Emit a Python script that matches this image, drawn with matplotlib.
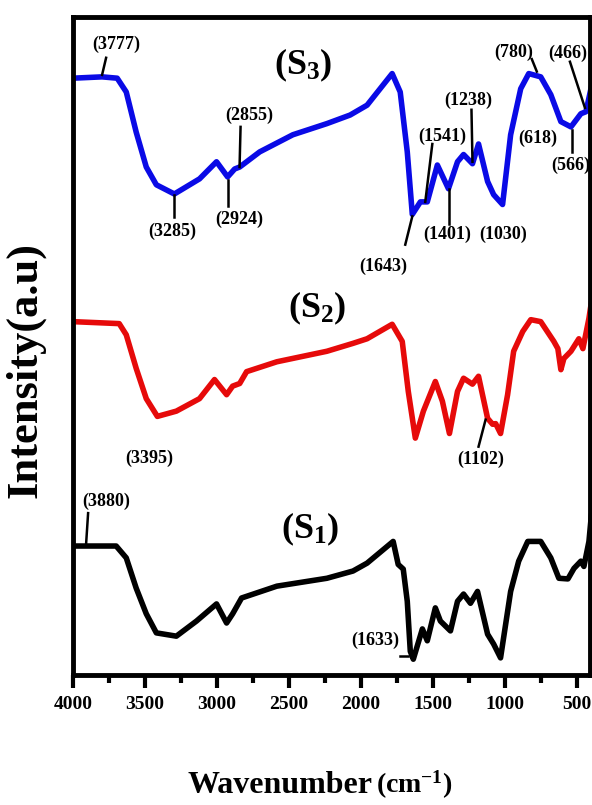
import matplotlib
matplotlib.use("Agg")
from matplotlib import pyplot as plt

plt.rcParams['font.family'] = ['Liberation Serif', 'DejaVu Serif']
plt.rcParams['font.weight'] = 'bold'
plt.rcParams['mathtext.fontset'] = 'custom'
plt.rcParams['mathtext.rm'] = 'Liberation Serif:bold'
plt.rcParams['mathtext.it'] = 'Liberation Serif:bold'
plt.rcParams['mathtext.bf'] = 'Liberation Serif:bold'

# FTIR spectra (wavenumber in cm^-1, intensity in a.u.)
s3_wn = [4000, 3798, 3693, 3630, 3561, 3491, 3421, 3296, 3121, 3003, 2926, 2877, 2842,
         2703, 2473, 2236, 2075, 1957, 1783, 1727, 1678, 1643, 1587, 1539, 1469, 1392,
         1329, 1287, 1225, 1183, 1120, 1078, 1016, 960, 890, 834, 751, 681, 611, 541,
         472, 437, 402]
s3_int = [90.7, 90.9, 90.7, 88.6, 82.5, 77.2, 74.5, 73.1, 75.4, 78.0, 75.7, 76.9, 77.2,
          79.5, 82.1, 83.8, 85.1, 86.6, 91.4, 88.6, 79.5, 70.0, 71.9, 71.9, 77.5, 73.9,
          78.0, 79.1, 77.7, 80.7, 75.0, 73.0, 71.5, 82.1, 89.1, 91.4, 90.9, 88.2, 84.1, 83.3,
          85.3, 85.6, 89.1]

s2_wn = [4000, 3679, 3630, 3561, 3491, 3414, 3282, 3121, 3017, 2933, 2891, 2842, 2794,
         2584, 2236, 2055, 1957, 1783, 1713, 1671, 1622, 1566, 1483, 1434, 1385, 1329,
         1287, 1225, 1183, 1120, 1085, 1064, 1030, 981, 939, 876, 820, 751, 660, 632,
         611, 590, 541, 486, 458, 416, 400]
s2_int = [53.7, 53.4, 51.7, 46.6, 42.0, 39.3, 40.1, 42.0, 44.9, 42.6, 43.9, 44.3, 46.1,
          47.6, 49.2, 50.4, 51.1, 53.3, 50.7, 43.1, 36.0, 40.1, 44.6, 41.6, 36.7, 43.1,
          45.1, 44.2, 45.4, 39.0, 38.1, 38.2, 36.7, 42.6, 49.2, 52.2, 54.0, 53.7, 50.7, 49.6,
          46.4, 48.1, 49.2, 51.1, 49.6, 54.2, 56.5]

s1_wn = [4000, 3700, 3630, 3561, 3491, 3421, 3282, 3142, 3003, 2933, 2891, 2829, 2584,
         2236, 2055, 1957, 1776, 1741, 1706, 1678, 1657, 1636, 1573, 1539, 1483, 1448,
         1378, 1329, 1287, 1239, 1190, 1120, 1078, 1030, 960, 904, 841, 751, 681, 625,
         562, 520, 472, 451, 416, 400]
s1_int = [19.6, 19.6, 17.8, 13.2, 9.3, 6.4, 5.9, 8.2, 10.8, 7.9, 9.3, 11.7, 13.5,
          14.7, 15.8, 17.0, 20.3, 16.8, 16.1, 11.2, 3.6, 2.4, 7.0, 5.2, 10.2, 8.2,
          6.7, 11.2, 12.3, 10.9, 12.7, 6.2, 4.7, 2.6, 12.7, 17.3, 20.3, 20.3, 17.8, 14.7,
          14.6, 16.2, 17.3, 16.5, 20.3, 24.1]

# peak labels: text, text position, pointer line (from, to) or None
peak_labels = [
    ('(3777)', (3700, 95.8), ((3770, 93.8), (3798, 91.2))),
    ('(3285)', (3310, 67.4), ((3296, 73.0), (3296, 69.6))),
    ('(2924)', (2842, 69.2), ((2926, 75.3), (2926, 71.2))),
    ('(2855)', (2773, 85.1), ((2836, 83.3), (2843, 77.2))),
    ('(1643)', (1845, 62.1), ((1692, 65.4), (1643, 69.7))),
    ('(1541)', (1434, 81.8), ((1504, 80.7), (1553, 71.9))),
    ('(1238)', (1253, 87.4), ((1232, 85.9), (1225, 78.0))),
    ('(1401)', (1399, 66.9), ((1385, 73.9), (1385, 68.6))),
    ('(1030)', (1009, 66.9), None),
    ('(780)', (939, 94.7), ((813, 93.6), (778, 91.7))),
    ('(466)', (562, 94.4), ((548, 93.2), (444, 86.2))),
    ('(618)', (772, 81.5), None),
    ('(566)', (541, 77.5), ((534, 82.9), (534, 79.5))),
    ('(3395)', (3470, 32.9), None),
    ('(1102)', (1169, 32.8), ((1183, 34.7), (1134, 38.8))),
    ('(3880)', (3770, 26.4), ((3895, 24.6), (3909, 19.9))),
    ('(1633)', (1901, 5.2), ((1727, 2.9), (1671, 2.9))),
]

sample_names = [r'$\mathrm{(S_3)}$', r'$\mathrm{(S_2)}$', r'$\mathrm{(S_1)}$']
sample_pos = [(2403, 92.7), (2306, 55.7), (2354, 22.2)]

fig = plt.figure(figsize=(5.92, 8.05), dpi=100)
ax = fig.add_axes([0.1233, 0.1615, 0.873, 0.8174])

ax.plot(s3_wn, s3_int, color='#0a0ae6', lw=4, solid_joinstyle='round')
ax.plot(s2_wn, s2_int, color='#e60a0a', lw=4, solid_joinstyle='round')
ax.plot(s1_wn, s1_int, color='black', lw=4, solid_joinstyle='round')

for txt, pos, line in peak_labels:
    ax.text(pos[0], pos[1], txt, ha='center', va='center', fontsize=13, fontweight='bold')
    if line is not None:
        ax.plot([line[0][0], line[1][0]], [line[0][1], line[1][1]], color='black', lw=1.8)

for name, pos in zip(sample_names, sample_pos):
    ax.text(pos[0], pos[1], name, ha='center', va='center', fontsize=26)

ax.set_xlim(4000, 410)
ax.set_ylim(0, 100)
ax.set_xticks([4000, 3500, 3000, 2500, 2000, 1500, 1000, 500])
ax.set_xticks([3750, 3250, 2750, 2250, 1750, 1250, 750], minor=True)
ax.set_yticks([])
ax.tick_params(axis='x', which='major', direction='out', length=9, width=3, labelsize=14, pad=6)
ax.tick_params(axis='x', which='minor', direction='out', length=6, width=3)
for sp in ax.spines.values():
    sp.set_linewidth(3.5)

# axis titles
fig.text(372 / 592, 12 / 805, 'Wavenumber', ha='right', va='baseline',
         fontsize=23, fontweight='bold')
fig.text(376 / 592, 12 / 805, r'$\mathrm{(cm^{-1})}$', ha='left', va='baseline',
         fontsize=20, fontweight='bold')
fig.text(25 / 592, 1 - 370 / 805, 'Intensity(a.u)', rotation=90, ha='center', va='center',
         fontsize=32, fontweight='bold')

fig.savefig('out.png', dpi=100)
